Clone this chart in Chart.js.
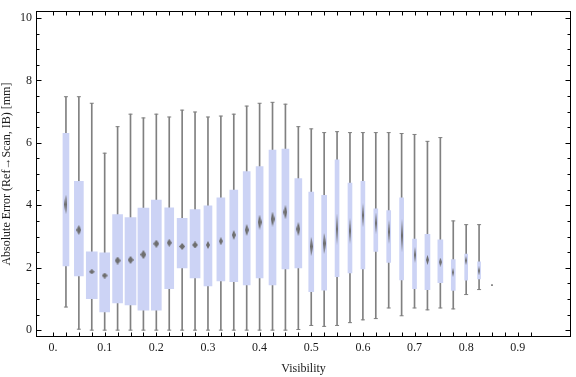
<!DOCTYPE html>
<html>
<head>
<meta charset="utf-8">
<script src="https://cdn.jsdelivr.net/npm/chart.js@4.4.0/dist/chart.umd.min.js"></script>
<style>
    html, body { margin: 0; padding: 0; background: #fff; }
    #wrap { width: 576px; height: 377px; }
</style>
</head>
<body>
<div id="wrap"><canvas id="boxChart" width="576" height="377"></canvas></div>
<script>
// visibility bins (one box per bin)
const visibility = [0.025, 0.05, 0.075, 0.1, 0.125, 0.15, 0.175, 0.2, 0.225, 0.25, 0.275, 0.3,
    0.325, 0.35, 0.375, 0.4, 0.425, 0.45, 0.475, 0.5, 0.525, 0.55, 0.575, 0.6,
    0.625, 0.65, 0.675, 0.7, 0.725, 0.75, 0.775, 0.8, 0.825];
const whiskerHigh = [7.48, 7.48, 7.27, 5.67, 6.52, 6.92, 6.80, 6.92, 6.83, 7.05, 6.99, 6.83,
    6.86, 6.92, 7.18, 7.27, 7.30, 7.24, 6.52, 6.45, 6.33, 6.36, 6.33, 6.33,
    6.33, 6.33, 6.30, 6.27, 6.05, 6.17, 3.50, 3.38, 3.38];
const upperQuartile = [6.31, 4.77, 2.51, 2.48, 3.70, 3.61, 3.91, 4.17, 3.92, 3.58, 3.86, 3.98,
    4.24, 4.49, 5.08, 5.24, 5.77, 5.80, 4.86, 4.42, 4.32, 5.46, 4.71, 4.77,
    3.89, 3.83, 4.24, 2.92, 3.07, 2.89, 2.26, 2.44, 2.19];
const medians = [4.03, 3.21, 1.87, 1.75, 2.23, 2.25, 2.42, 2.77, 2.80, 2.68, 2.73, 2.73,
    2.85, 3.05, 3.21, 3.46, 3.56, 3.78, 3.24, 2.68, 2.78, 3.24, 3.18, 3.68,
    3.43, 3.15, 3.03, 2.41, 2.25, 2.18, 1.85, 2.23, 1.90];
const lowerQuartile = [2.06, 1.74, 1.01, 0.58, 0.87, 0.81, 0.64, 0.64, 1.33, 1.99, 1.67, 1.42,
    1.58, 1.55, 1.45, 1.67, 1.45, 1.96, 1.99, 1.23, 1.28, 1.71, 1.83, 1.96,
    2.52, 2.17, 1.61, 1.33, 1.30, 1.52, 1.27, 1.60, 1.64];
const whiskerLow = [0.74, 0.03, 0, 0, 0, 0, 0, 0, 0, 0, 0, 0,
    0, 0, 0, 0, 0, 0, 0.02, 0.15, 0.12, 0.15, 0.24, 0.33,
    0.37, 0.71, 0.46, 0.71, 0.65, 0.71, 0.68, 1.14, 1.30];
// half height of the median diamond (mm)
const medianSpread = [0.30, 0.16, 0.08, 0.09, 0.13, 0.13, 0.14, 0.13, 0.13, 0.11, 0.11, 0.13,
    0.13, 0.16, 0.20, 0.24, 0.24, 0.22, 0.22, 0.30, 0.33, 0.50, 0.42, 0.39,
    0.33, 0.39, 0.53, 0.25, 0.16, 0.14, 0.14, 0.14, 0.14];
// single lone value
const loneX = [0.85];
const loneY = [1.44];

const xTickLabels = ["0.", "0.1", "0.2", "0.3", "0.4", "0.5", "0.6", "0.7", "0.8", "0.9"];
const yTickLabels = ["0", "2", "4", "6", "8", "10"];

// drawn box widths in px
const boxPx = [6, 9, 11, 10, 10, 11, 11, 10, 9, 10, 10, 8, 8, 8, 7, 7, 7, 7, 7, 5, 5,
    4, 4, 4, 4, 4, 4, 4, 5, 5, 4, 3, 3];

const boxFill = "#ccd3f5";
const whiskerColor = "#808080";
const diamondColor = "#6e6e6e";
const textColor = "#1a1a1a";
const serif = "'Liberation Serif', 'Times New Roman', serif";

// diamond sprite for the median, height from medianSpread via the y scale
const diamondCache = {};
const diamondFor = (context) => {
    const i = context.dataIndex;
    if (i === undefined) return "rectRot";
    const y = context.chart.scales.y;
    const h = Math.max(4, Math.round(y.getPixelForValue(medians[i] - medianSpread[i]) - y.getPixelForValue(medians[i] + medianSpread[i])));
    const w = Math.max(2, Math.round(boxPx[i] * 0.55));
    const key = w + "x" + h;
    if (diamondCache[key]) return diamondCache[key];
    const c = document.createElement("canvas");
    c.width = w;
    c.height = h;
    const g = c.getContext("2d");
    g.fillStyle = diamondColor;
    g.beginPath();
    g.moveTo(w / 2, 0);
    g.lineTo(w, h / 2);
    g.lineTo(w / 2, h);
    g.lineTo(0, h / 2);
    g.closePath();
    g.fill();
    diamondCache[key] = c;
    return c;
};

//frame with inward ticks on all four sides
const frameTicks = {
    id: "frameTicks",
    afterDatasetsDraw(chart) {
        const {ctx, chartArea: a, scales: {x, y}} = chart;
        const L = Math.round(a.left) + 0.5, R = Math.round(a.right) - 0.5;
        const T = Math.round(a.top) + 0.5, B = Math.round(a.bottom) - 0.5;
        ctx.save();
        ctx.strokeStyle = "#000";
        ctx.lineWidth = 1;
        ctx.strokeRect(L, T, R - L, B - T);
        ctx.beginPath();
        for (let t of x.ticks) {
            if (t.value < -0.001 || t.value > 0.93) continue;
            const px = Math.round(x.getPixelForValue(t.value)) + 0.5;
            ctx.moveTo(px, B); ctx.lineTo(px, B - 4);
            ctx.moveTo(px, T); ctx.lineTo(px, T + 4);
        }
        for (let t of y.ticks) {
            const major = Math.abs(t.value / 2 - Math.round(t.value / 2)) < 1e-6;
            const len = major ? 5 : 3;
            const py = Math.round(y.getPixelForValue(t.value)) + 0.5;
            ctx.moveTo(L, py); ctx.lineTo(L + len, py);
            ctx.moveTo(R, py); ctx.lineTo(R - len, py);
        }
        ctx.stroke();
        ctx.restore();
    }
};

const datasets = [];

// whiskers behind the boxes
datasets.push({
    type: "bar",
    data: visibility.map((v, i) => ({x: v, y: [whiskerLow[i], whiskerHigh[i]]})),
    backgroundColor: whiskerColor,
    borderWidth: 0,
    grouped: false,
    barThickness: 1,
    order: 3
});

// one dataset per box so each can have its own width
visibility.forEach((v, i) => {
    datasets.push({
        type: "bar",
        data: [{x: v, y: [lowerQuartile[i], upperQuartile[i]]}],
        backgroundColor: boxFill,
        borderWidth: 0,
        grouped: false,
        barThickness: boxPx[i],
        order: 2
    });
});

// whisker caps
const caps = [];
visibility.forEach((v, i) => {
    caps.push({x: v, y: whiskerHigh[i]});
    caps.push({x: v, y: whiskerLow[i]});
});
datasets.push({
    type: "scatter",
    data: caps,
    pointStyle: "line",
    pointRadius: 2,
    borderColor: whiskerColor,
    borderWidth: 1,
    order: 1
});

// medians
datasets.push({
    type: "scatter",
    data: visibility.map((v, i) => ({x: v, y: medians[i]})),
    pointStyle: diamondFor,
    pointRadius: 3,
    borderWidth: 0,
    order: 0
});

datasets.push({
    type: "scatter",
    data: loneX.map((v, i) => ({x: v, y: loneY[i]})),
    pointStyle: "rect",
    pointRadius: 1.2,
    backgroundColor: "#777",
    borderWidth: 0,
    order: 0
});

new Chart(document.querySelector("#boxChart"), {
    type: "bar",
    data: {datasets: datasets},
    options: {
        responsive: false,
        animation: false,
        layout: {padding: {top: 4, right: 1, left: 0, bottom: 0}},
        plugins: {legend: {display: false}, tooltip: {enabled: false}},
        scales: {
            x: {
                type: "linear",
                min: -0.033,
                max: 1.003,
                offset: false,
                grid: {display: false, drawTicks: false, offset: false},
                border: {display: false},
                ticks: {
                    stepSize: 0.025,
                    includeBounds: false,
                    autoSkip: false,
                    maxRotation: 0,
                    padding: 4,
                    color: textColor,
                    font: {family: serif, size: 12},
                    callback: (value) => {
                        const k = Math.round(value * 40);
                        if (k < 0 || k % 4 !== 0) return "";
                        return xTickLabels[k / 4] || "";
                    }
                },
                title: {
                    display: true,
                    text: "Visibility",
                    color: textColor,
                    font: {family: serif, size: 12},
                    padding: {top: 0, bottom: 1}
                },
                afterFit: (s) => { s.height = 40; }
            },
            y: {
                min: -0.22,
                max: 10.22,
                grid: {display: false, drawTicks: false},
                border: {display: false},
                ticks: {
                    stepSize: 0.5,
                    includeBounds: false,
                    autoSkip: false,
                    padding: 4,
                    color: textColor,
                    font: {family: serif, size: 12},
                    callback: (value) => {
                        const k = Math.round(value * 2);
                        if (k < 0 || k % 4 !== 0) return "";
                        return yTickLabels[k / 4] || "";
                    }
                },
                title: {
                    display: true,
                    text: "Absolute Error (Ref\u2192Scan, IB) [mm]",
                    color: textColor,
                    font: {family: serif, size: 12},
                    padding: {top: 0, bottom: 0}
                },
                afterFit: (s) => { s.width = 36; }
            }
        }
    },
    plugins: [frameTicks]
});
</script>
</body>
</html>
